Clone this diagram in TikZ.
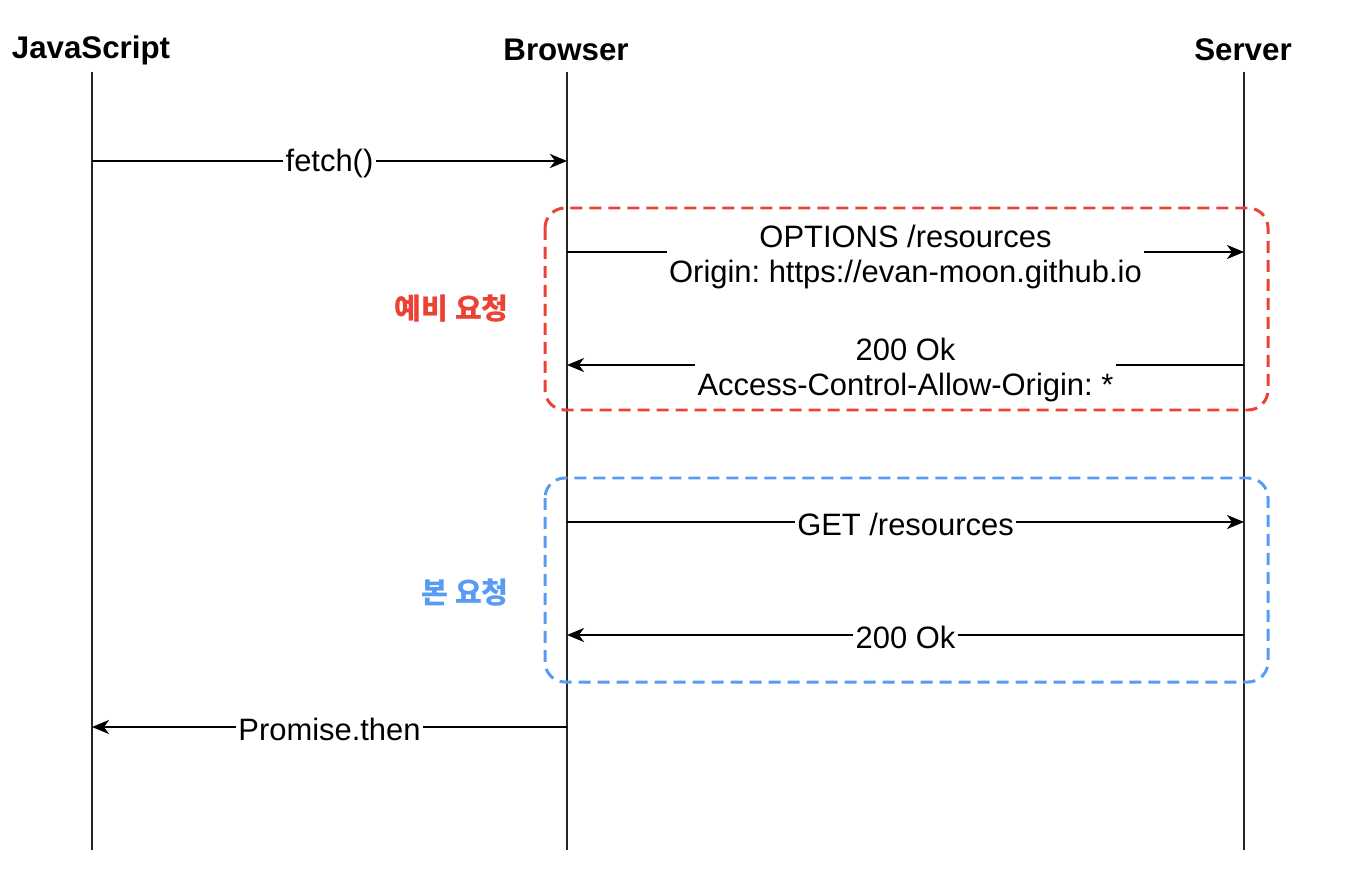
\documentclass[tikz,border=0pt]{standalone}
\usepackage{fontspec}
\setmainfont{Liberation Sans}
\newfontfamily\krfont{Noto Sans CJK KR}
\usetikzlibrary{arrows.meta}
\definecolor{prered}{RGB}{234,67,53}
\definecolor{mainblue}{RGB}{88,155,245}
\frenchspacing
\tikzset{
    head/.style={font=\fontsize{17.8}{20}\selectfont\bfseries},
    life/.style={line width=1.4pt, black!85},
    msg/.style={line width=1.3pt, -{Stealth[length=0.34cm, width=0.28cm, inset=0.1cm]}},
    lbl/.style={fill=white, inner sep=1.5pt, align=center, font=\fontsize{17.6}{19.9}\selectfont},
    phase/.style={line width=1.7pt, dash pattern=on 0.24cm off 0.14cm, rounded corners=0.4cm},
    phaselbl/.style={anchor=east, font=\krfont\bfseries\fontsize{16.6}{19}\selectfont}
}
\begin{document}
\begin{tikzpicture}[x=0.02cm, y=-0.02cm]
    \useasboundingbox (0,0) rectangle (1348,892);
    % lifelines
    \node[head] (js) at (91,50) {JavaScript};
    \node[head] (br) at (566,50) {Browser};
    \node[head] (sv) at (1243,50) {Server};
    \draw[life] (92,72) -- (92,850);
    \draw[life] (567,72) -- (567,850);
    \draw[life] (1244,72) -- (1244,850);
    % message rows
    \foreach \n/\y in {fetch/161, opt/252, ok1/365, get/522, ok2/635, then/727} {
        \coordinate (js-\n) at (92,\y);
        \coordinate (br-\n) at (567,\y);
        \coordinate (sv-\n) at (1244,\y);
    }
    % preflight
    \draw[phase, prered] (545,208) rectangle (1268,410);
    \node[phaselbl, prered] (pre) at (515,309) {예비 요청};
    % actual request
    \draw[phase, mainblue] (545,478) rectangle (1268,682);
    \node[phaselbl, mainblue] (main) at (515,593) {본 요청};
    % messages
    \draw[msg] (js-fetch) -- node[lbl, yshift=-0.04cm] {fetch()} (br-fetch);
    \draw[msg] (br-opt) -- node[lbl, yshift=-0.1cm] {OPTIONS /resources\\Origin: https://evan-moon.github.io} (sv-opt);
    \draw[msg] (sv-ok1) -- node[lbl, yshift=-0.1cm] {200 Ok\\Access-Control-Allow-Origin: *} (br-ok1);
    \draw[msg] (br-get) -- node[lbl, yshift=-0.04cm] {GET /resources} (sv-get);
    \draw[msg] (sv-ok2) -- node[lbl, yshift=-0.04cm] {200 Ok} (br-ok2);
    \draw[msg] (br-then) -- node[lbl, yshift=-0.04cm] {Promise.then} (js-then);
\end{tikzpicture}
\end{document}
